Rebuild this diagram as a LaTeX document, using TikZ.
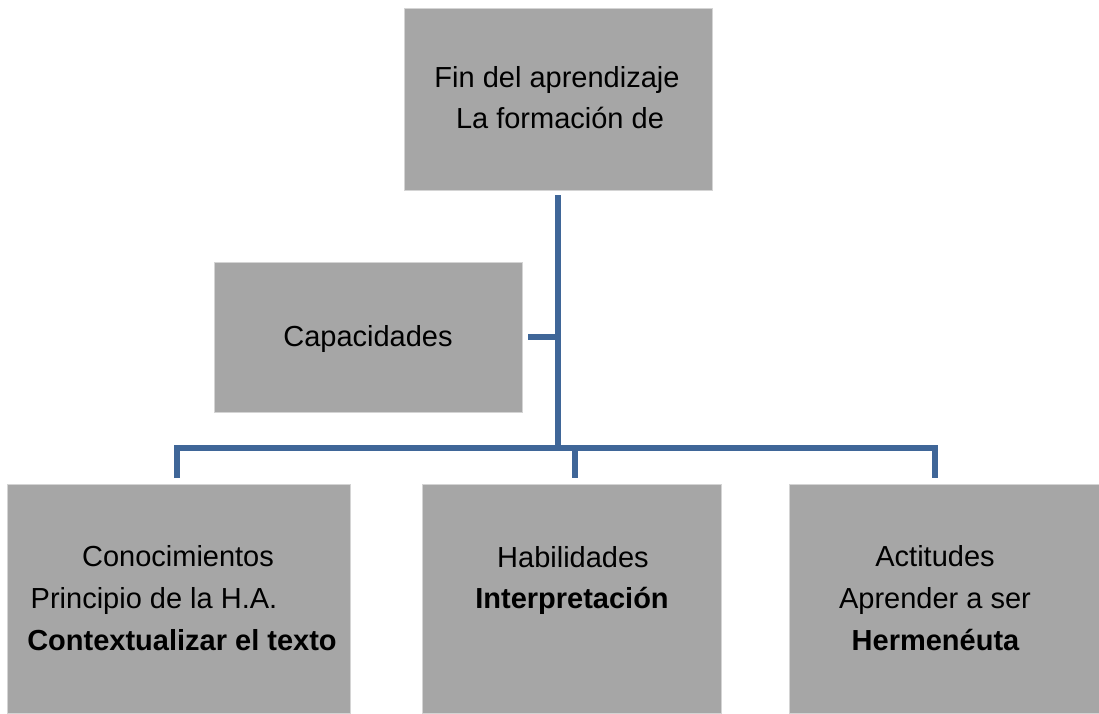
\documentclass[tikz,border=0pt]{standalone}
\usepackage{fontspec}
\setmainfont{Liberation Sans}
\definecolor{boxgray}{HTML}{A6A6A6}
\definecolor{boxedge}{HTML}{D4D4D4}
\definecolor{linkblue}{HTML}{3F6698}
\tikzset{
  greybox/.style={fill=boxgray, draw=boxedge, line width=1pt, inner sep=0pt, outer sep=0pt},
  lbl/.style={anchor=base, inner sep=0pt, font=\fontsize{29}{35}\selectfont},
  link/.style={draw=linkblue, line width=6pt, line join=miter},
}
\begin{document}
\begin{tikzpicture}[x=1pt, y=-1pt]
\useasboundingbox (0,0) rectangle (1099,713);
% boxes
\node[greybox, minimum width=308pt, minimum height=182pt] (top) at (558,99) {};
\node[greybox, minimum width=308pt, minimum height=150pt] (cap) at (368,337) {};
\node[greybox, minimum width=343pt, minimum height=229pt] (con) at (178.5,598.5) {};
\node[greybox, minimum width=299pt, minimum height=229pt] (hab) at (571.5,598.5) {};
\node[greybox, minimum width=310pt, minimum height=229pt] (act) at (944,598.5) {};
% texts
\node[lbl] (t1) at (557,87) {Fin del aprendizaje};
\node[lbl] (t2) at (560,128) {La formación de};
\node[lbl] (c1) at (368,346) {Capacidades};
\node[lbl] (k1) at (178,566) {Conocimientos};
\node[lbl] (k2) at (154,608) {Principio de la H.A.};
\node[lbl] (k3) at (182,650) {\bfseries Contextualizar el texto};
\node[lbl] (h1) at (573,567) {Habilidades};
\node[lbl] (h2) at (572,608) {\bfseries Interpretación};
\node[lbl] (a1) at (935,566) {Actitudes};
\node[lbl] (a2) at (935,608) {Aprender a ser};
\node[lbl] (a3) at (935.5,650) {\bfseries Hermenéuta};
% junctions
\coordinate (mtop) at (558,195);
\coordinate (mbot) at (558,451);
\coordinate (mstub) at (558,337);
\coordinate (capend) at (528,337);
\coordinate (hl) at (177,448);
\coordinate (hr) at (935,448);
\coordinate (dl) at (177,478);
\coordinate (dm0) at (575,448);
\coordinate (dm) at (575,478);
\coordinate (dr) at (935,478);
% connectors
\draw[link] (mtop) -- (mbot);
\draw[link] (capend) -- (mstub);
\draw[link] (dl) -- (hl) -- (hr) -- (dr);
\draw[link] (dm0) -- (dm);
\end{tikzpicture}
\end{document}
